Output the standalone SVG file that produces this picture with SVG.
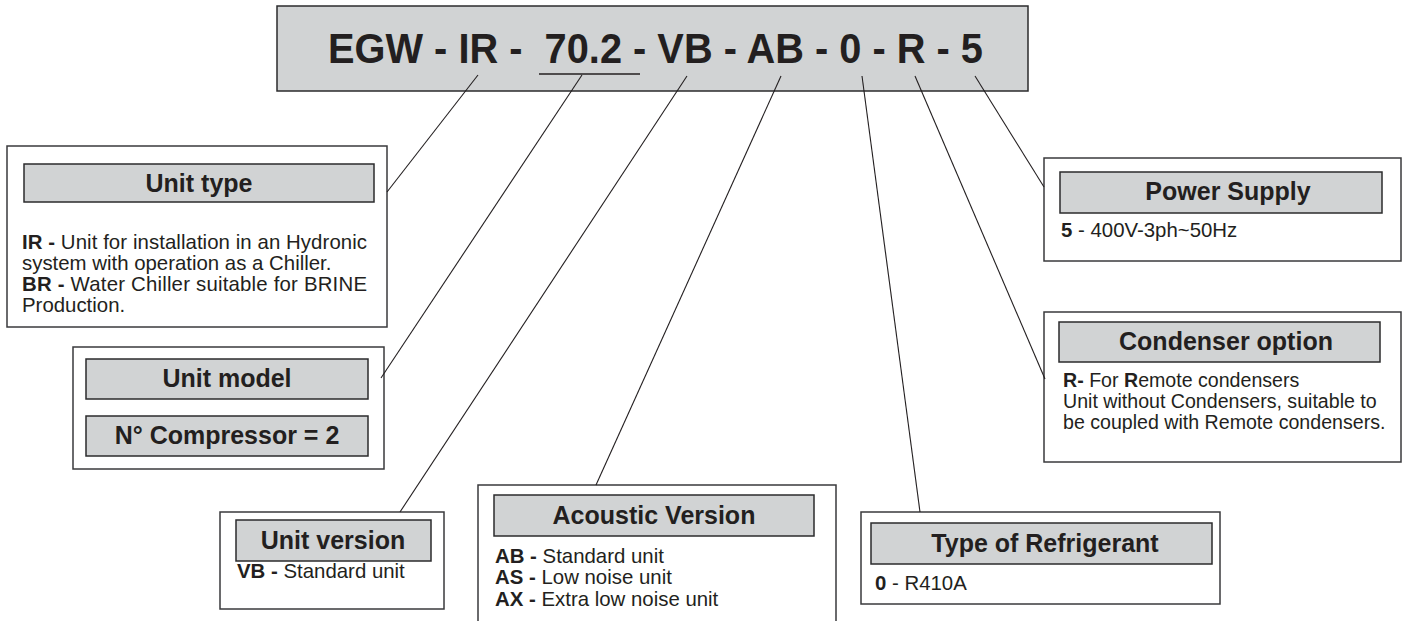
<svg xmlns="http://www.w3.org/2000/svg" width="1407" height="621" viewBox="0 0 1407 621">
<style>
.bg{fill:#ffffff}
.outer{fill:#ffffff;stroke:#3a3a3c;stroke-width:1.5}
.hdr{fill:#d1d3d4;stroke:#2b2b2d;stroke-width:1.5}
.ttl{font-family:"Liberation Sans",Arial,sans-serif;font-weight:bold;font-size:25px;fill:#231f20;text-anchor:middle}
.body{font-family:"Liberation Sans",Arial,sans-serif;font-size:20.4px;fill:#231f20}
.sm{font-size:19.6px}
.b{font-weight:bold}
.code{font-family:"Liberation Sans",Arial,sans-serif;font-weight:bold;font-size:43px;fill:#231f20}
.conn line{stroke:#231f20;stroke-width:1.1;fill:none}
</style>
<rect class="bg" x="0" y="0" width="1407" height="621"/>

<g id="code">
  <rect class="hdr" x="277" y="6" width="751" height="85"/>
  <text class="code" x="328" y="63" textLength="655" lengthAdjust="spacingAndGlyphs" xml:space="preserve">EGW - IR -  70.2 - VB - AB - 0 - R - 5</text>
  <line x1="539" y1="74" x2="640" y2="74" stroke="#231f20" stroke-width="1.5"/>
</g>

<g id="unit-type">
  <rect class="outer" x="7" y="146" width="380" height="181"/>
  <rect class="hdr" x="24" y="164" width="350" height="38"/>
  <text class="ttl" x="199" y="192">Unit type</text>
  <text class="body" x="22" y="249" textLength="345" lengthAdjust="spacing"><tspan class="b">IR -</tspan> Unit for installation in an Hydronic</text>
  <text class="body" x="22" y="270">system with operation as a Chiller.</text>
  <text class="body" x="22" y="291" textLength="345" lengthAdjust="spacing"><tspan class="b">BR -</tspan> Water Chiller suitable for BRINE</text>
  <text class="body" x="22" y="312">Production.</text>
</g>

<g id="unit-model">
  <rect class="outer" x="73" y="347" width="311" height="122"/>
  <rect class="hdr" x="86" y="359" width="282" height="40"/>
  <text class="ttl" x="227" y="387">Unit model</text>
  <rect class="hdr" x="86" y="416" width="282" height="40"/>
  <text class="ttl" x="227" y="444">N° Compressor = 2</text>
</g>

<g id="unit-version">
  <rect class="outer" x="220" y="512" width="224" height="97"/>
  <rect class="hdr" x="236" y="520" width="195" height="41"/>
  <text class="ttl" x="333" y="549">Unit version</text>
  <text class="body" x="237" y="578"><tspan class="b">VB -</tspan> Standard unit</text>
</g>

<g id="acoustic-version">
  <path class="outer" d="M478 630 V485 H836 V630"/>
  <rect class="hdr" x="494" y="495" width="320" height="41"/>
  <text class="ttl" x="654" y="524">Acoustic Version</text>
  <text class="body" x="495" y="563"><tspan class="b">AB -</tspan> Standard unit</text>
  <text class="body" x="495" y="584"><tspan class="b">AS -</tspan> Low noise unit</text>
  <text class="body" x="495" y="606"><tspan class="b">AX -</tspan> Extra low noise unit</text>
</g>

<g id="refrigerant">
  <rect class="outer" x="861" y="512" width="359" height="92"/>
  <rect class="hdr" x="871" y="523" width="341" height="41"/>
  <text class="ttl" x="1045" y="552">Type of Refrigerant</text>
  <text class="body" x="875" y="590"><tspan class="b">0</tspan> - R410A</text>
</g>

<g id="power-supply">
  <rect class="outer" x="1044" y="158" width="357" height="103"/>
  <rect class="hdr" x="1060" y="172" width="322" height="41"/>
  <text class="ttl" x="1228" y="200">Power Supply</text>
  <text class="body" x="1061" y="237"><tspan class="b">5</tspan> - 400V-3ph~50Hz</text>
</g>

<g id="condenser-option">
  <rect class="outer" x="1044" y="312" width="357" height="150"/>
  <rect class="hdr" x="1059" y="322" width="321" height="40"/>
  <text class="ttl" x="1226" y="350">Condenser option</text>
  <text class="body sm" x="1063" y="387"><tspan class="b">R-</tspan> For <tspan class="b">R</tspan>emote condensers</text>
  <text class="body sm" x="1063" y="408">Unit without Condensers, suitable to</text>
  <text class="body sm" x="1063" y="429">be coupled with Remote condensers.</text>
</g>

<g id="connectors" class="conn">
  <line x1="478" y1="75" x2="387" y2="192"/>
  <line x1="582" y1="75" x2="381" y2="378"/>
  <line x1="687" y1="76" x2="400" y2="512"/>
  <line x1="781" y1="76" x2="596" y2="485"/>
  <line x1="862" y1="76" x2="920" y2="512"/>
  <line x1="915" y1="76" x2="1045" y2="379"/>
  <line x1="975" y1="76" x2="1044" y2="187"/>
</g>
</svg>
